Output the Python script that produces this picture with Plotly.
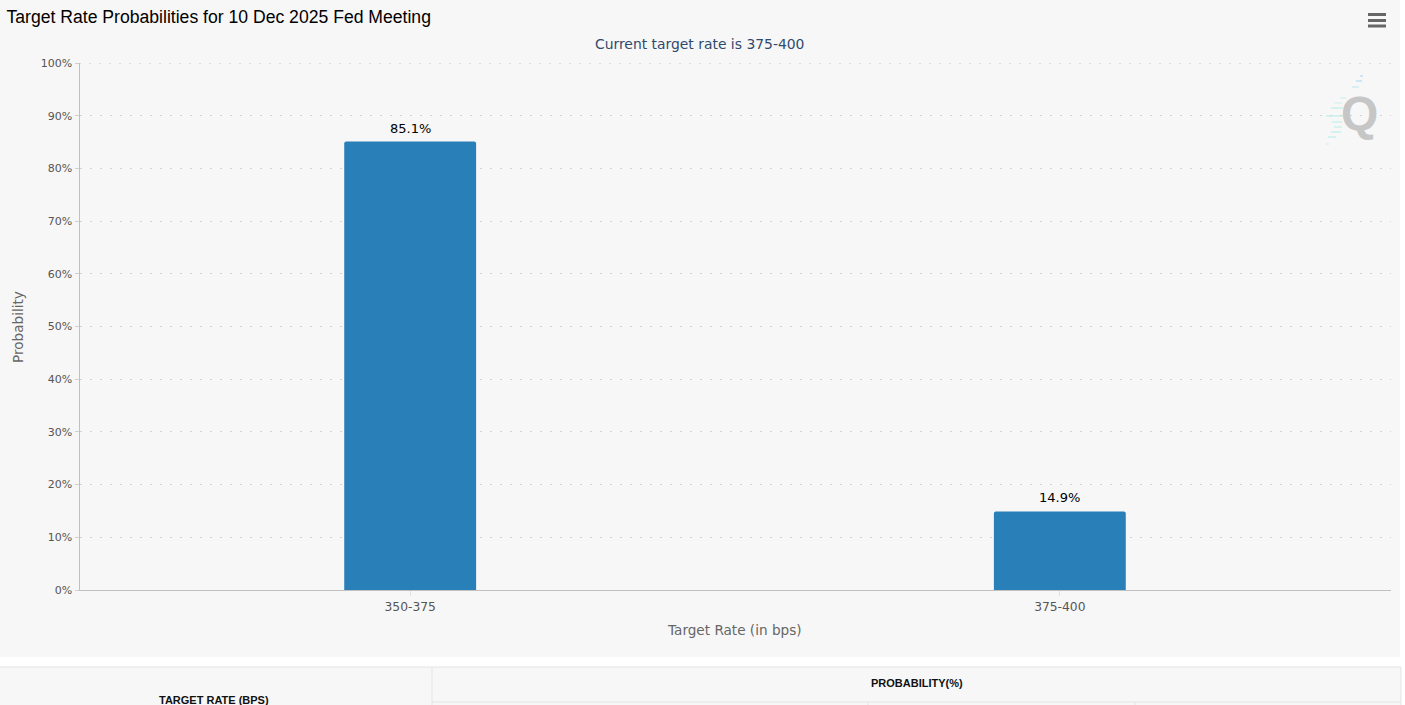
import plotly.graph_objects as go

categories = ["350-375", "375-400"]
probabilities = [85.1, 14.9]
y_ticks = list(range(0, 101, 10))
y_labels = [f"{v}%" for v in y_ticks]

W, H = 1405, 705
PANEL = "#f7f7f7"
LINE = "#e3e3e3"
GRID = "#d4d4d4"
GRID_DASH = "2px,8px"


def px_x(x):
    return x / W


def px_y(y):
    return 1 - y / H


def rect(x0, y0, x1, y1, fill, line=None):
    return dict(type="rect", xref="paper", yref="paper", layer="below",
                x0=px_x(x0), x1=px_x(x1), y0=px_y(y1), y1=px_y(y0),
                fillcolor=fill, line=dict(color=line, width=1) if line else dict(width=0))


def seg(x0, y0, x1, y1, color=LINE, width=1, layer="below"):
    return dict(type="line", xref="paper", yref="paper", layer=layer,
                x0=px_x(x0), x1=px_x(x1), y0=px_y(y0), y1=px_y(y1),
                line=dict(color=color, width=width))


def label(text, x, y, font, angle=0):
    return dict(text=text, xref="paper", yref="paper", x=px_x(x), y=px_y(y), showarrow=False,
                xanchor="center", yanchor="middle", font=font, textangle=angle)


fig = go.Figure(go.Bar(x=categories, y=probabilities, width=0.203,
                       marker=dict(color="#2980b9", line=dict(width=0), cornerradius=2),
                       hoverinfo="x+y"))

shapes = [
    rect(0, 0, 1400, 657, PANEL),            # chart panel
    rect(-3, 667, 1401, 720, PANEL, LINE),   # table under the chart
    seg(432, 667, 432, 705),
    seg(432, 702, 1401, 702),
    seg(868, 702, 868, 705),
    seg(1135, 702, 1135, 705),
    # plotly leaves out the gridline on the top edge of the range
    dict(type="line", xref="paper", yref="y", layer="below", x0=px_x(79), x1=px_x(1391), y0=100, y1=100,
         line=dict(color=GRID, width=1.4, dash=GRID_DASH)),
]
# menu icon
for y in (14.5, 20.5, 26):
    shapes.append(seg(1368, y, 1386, y, color="#666666", width=3, layer="above"))
# streak of the logo watermark
for x, y, length, color in [(1360, 76, 3, "#cfe6f5"), (1356, 81, 6, "#cfe6f5"), (1352, 87, 7, "#dcedf5"),
                            (1340, 98, 6, "#e0f2f2"), (1334, 103, 8, "#e0f4f2"), (1331, 108, 12, "#d5f2ef"),
                            (1326, 116, 17, "#d5f2ef"), (1332, 122, 10, "#d5f2ef"), (1334, 127, 8, "#d5f2ef"),
                            (1331, 132, 10, "#d5f2ef"), (1328, 137, 8, "#d5f2ef"), (1326, 144, 3, "#e0f2f2")]:
    shapes.append(seg(x, y, x + length, y, color=color, width=2))

axis_title_font = dict(family="DejaVu Sans", size=13.6, color="#666666")
annotations = [
    label("Q", 1359, 113, dict(family="Liberation Sans", size=48, color="#c6c6c6", weight="bold")),
    label("Current target rate is 375-400", 699, 44, dict(family="DejaVu Sans", size=13.9, color="#2f4a6d")),
    label("Target Rate (in bps)", 734.5, 630, axis_title_font),
    label("Probability", 18, 327, axis_title_font, angle=-90),
    label("<b>TARGET RATE (BPS)</b>", 213.5, 699.5, dict(family="Liberation Sans", size=11, color="#111111")),
    label("<b>PROBABILITY(%)</b>", 917, 683, dict(family="Liberation Sans", size=11, color="#111111")),
]
for cat, val in zip(categories, probabilities):
    annotations.append(dict(text=f"{val}%", x=cat, y=val, yanchor="bottom", yshift=4, showarrow=False,
                            font=dict(family="DejaVu Sans", size=13, color="#000000")))

fig.update_layout(
    template="none",
    width=W, height=H,
    margin=dict(l=0, r=0, t=0, b=0),
    paper_bgcolor="#ffffff",
    plot_bgcolor="rgba(0,0,0,0)",
    showlegend=False,
    title=dict(text="Target Rate Probabilities for 10 Dec 2025 Fed Meeting",
               x=px_x(6.5), y=px_y(17), xanchor="left", yanchor="middle",
               font=dict(family="Liberation Sans", size=17.6, color="#000000")),
    shapes=shapes,
    annotations=annotations,
)
fig.update_xaxes(domain=[px_x(79.5), px_x(1390.5)], range=[-0.509, 1.509], automargin=False,
                 showline=True, linecolor="#c0c0c0", linewidth=1, showgrid=False,
                 ticks="outside", ticklen=5, tickcolor="#e0e0e0",
                 tickfont=dict(family="DejaVu Sans", size=12.3, color="#555555"))
fig.update_yaxes(domain=[px_y(590), px_y(63)], range=[0, 100], automargin=False,
                 tickvals=y_ticks, ticktext=y_labels,
                 tickfont=dict(family="DejaVu Sans", size=11, color="#555555"),
                 showline=True, linecolor="#c0c0c0", linewidth=1, zeroline=False,
                 showgrid=True, gridcolor=GRID, gridwidth=1.4, griddash=GRID_DASH,
                 ticks="outside", ticklen=4, tickcolor="#d0d0d0")

fig.write_html("out.html", config=dict(displayModeBar=False),
               post_script="document.body.style.margin='0';document.body.style.overflow='hidden';")
